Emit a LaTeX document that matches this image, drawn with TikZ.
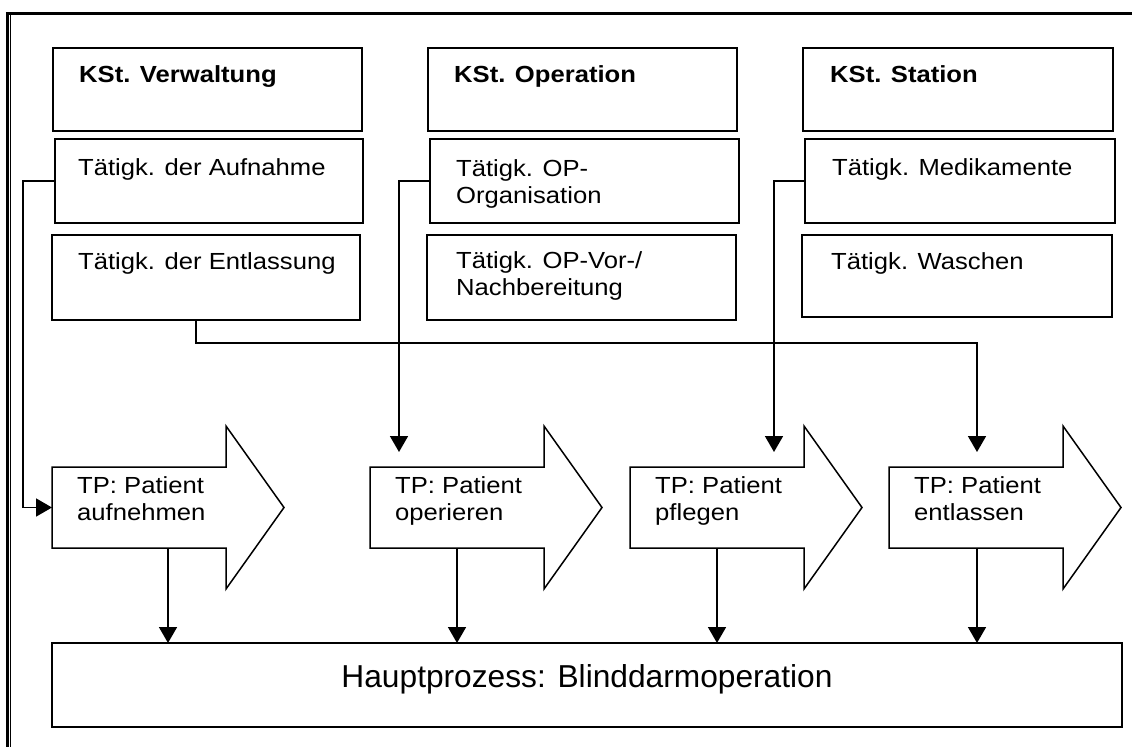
\documentclass[tikz,border=0pt]{standalone}
\usepackage{fontspec}
\setmainfont{Liberation Sans}
\newfontfamily\labelfont{Liberation Sans}[FakeStretch=1.1]
\usetikzlibrary{calc,arrows.meta}

% cost-centre / activity box given by its corners
\newcommand\costbox[6][]{%
  \node[box,#1,minimum width={#5-#3},minimum height={#6-#4}] (#2)
    at ({(#3+#5)/2},{(#4+#6)/2}) {};}

% sub-process block arrow: name, left, top, text
\newcommand\tparrow[4]{%
  \node[inner sep=0pt,outer sep=0pt,minimum width=174,minimum height=81,
        anchor=north west] (#1) at (#2,#3) {};
  \draw[blockarrow] (#1.north west) -- (#1.north east) -- ++(0,-41)
    -- ($(#1.east)+(58,0)$) -- ($(#1.south east)+(0,41)$)
    -- (#1.south east) -- (#1.south west) -- cycle;
  \node[txt] at ($(#1.north west)+(25,26)$) {\parbox[t]{150pt}{#4}};}

\begin{document}
\begin{tikzpicture}[x=1pt,y=-1pt,
  box/.style={draw,line width=2pt,inner sep=0pt,outer sep=0pt},
  txt/.style={anchor=base west,inner sep=0pt,
              font=\labelfont\fontsize{23.3}{27}\selectfont},
  conn/.style={line width=1.7pt,-{Triangle[width=18pt,length=16pt]}},
  blockarrow/.style={draw,line width=1.5pt,line join=miter},
]
\useasboundingbox (0,0) rectangle (1132,747);

% page frame
\draw[line width=3pt] (5.8,13.5) -- (1132,13.5);
\draw[line width=2.7pt] (7.3,12) -- (7.3,747);
\draw[line width=1.3pt] (10.7,15) -- (10.7,747);

% cost centres and their activities
\costbox{kv}{53}{48}{362}{131}
\costbox{ta}{55}{139}{363}{223}
\costbox{te}{52}{235}{360}{320}
\costbox{ko}{428}{48}{737}{131}
\costbox{tor}{430}{139}{739}{223}
\costbox{tvn}{427}{235}{736}{320}
\costbox{ks}{803}{48}{1113}{131}
\costbox{tm}{805}{139}{1115}{223}
\costbox{tw}{802}{235}{1112}{317}

\node[txt] at ($(kv.north west)+(26,34)$) {\bfseries KSt. Verwaltung};
\node[txt] at ($(ta.north west)+(23,36)$) {Tätigk. der Aufnahme};
\node[txt] at ($(te.north west)+(26,34)$) {Tätigk. der Entlassung};
\node[txt] at ($(ko.north west)+(26,34)$) {\bfseries KSt. Operation};
\node[txt] at ($(tor.north west)+(26,37)$) {\parbox[t]{280pt}{Tätigk. OP-\\Organisation}};
\node[txt] at ($(tvn.north west)+(29,33)$) {\parbox[t]{280pt}{Tätigk. OP-Vor-/\\Nachbereitung}};
\node[txt] at ($(ks.north west)+(27,34)$) {\bfseries KSt. Station};
\node[txt] at ($(tm.north west)+(27,36)$) {Tätigk. Medikamente};
\node[txt] at ($(tw.north west)+(29,34)$) {Tätigk. Waschen};

% sub-processes
\tparrow{tp1}{52}{467}{TP: Patient\\aufnehmen}
\tparrow{tp2}{370}{467}{TP: Patient\\operieren}
\tparrow{tp3}{630}{467}{TP: Patient\\pflegen}
\tparrow{tp4}{889}{467}{TP: Patient\\entlassen}

% main process
\costbox[line width=2.5pt]{hp}{52}{643}{1122}{727}
\node[anchor=base,inner sep=0pt,font=\fontsize{31.7}{36}\selectfont]
  at ($(hp.north)+(0,44)$) {Hauptprozess: Blinddarmoperation};

% activities feeding the sub-processes
\coordinate (in2) at ($(tp2.north west)+(29,-15)$);
\coordinate (in3) at ($(tp3.north west)+(144,-15)$);
\coordinate (in4) at ($(tp4.north west)+(88,-15)$);
\coordinate (eout) at ($(te.south west)+(144,0)$);
\draw[conn] (ta.west) -- ++(-32,0) |- (tp1.west);
\draw[conn] (tor.west) -| (in2);
\draw[conn] (tm.west) -| (in3);
\draw[conn] (eout) -- ++(0,23) -| (in4);

% sub-processes feeding the main process
\coordinate (b1) at ($(tp1.south west)+(116,0)$);
\coordinate (b2) at ($(tp2.south west)+(87,0)$);
\coordinate (b3) at ($(tp3.south west)+(87,0)$);
\coordinate (b4) at ($(tp4.south west)+(88,0)$);
\foreach \b in {b1,b2,b3,b4}
  \draw[conn] (\b) -- (\b |- hp.north);
\end{tikzpicture}
\end{document}
